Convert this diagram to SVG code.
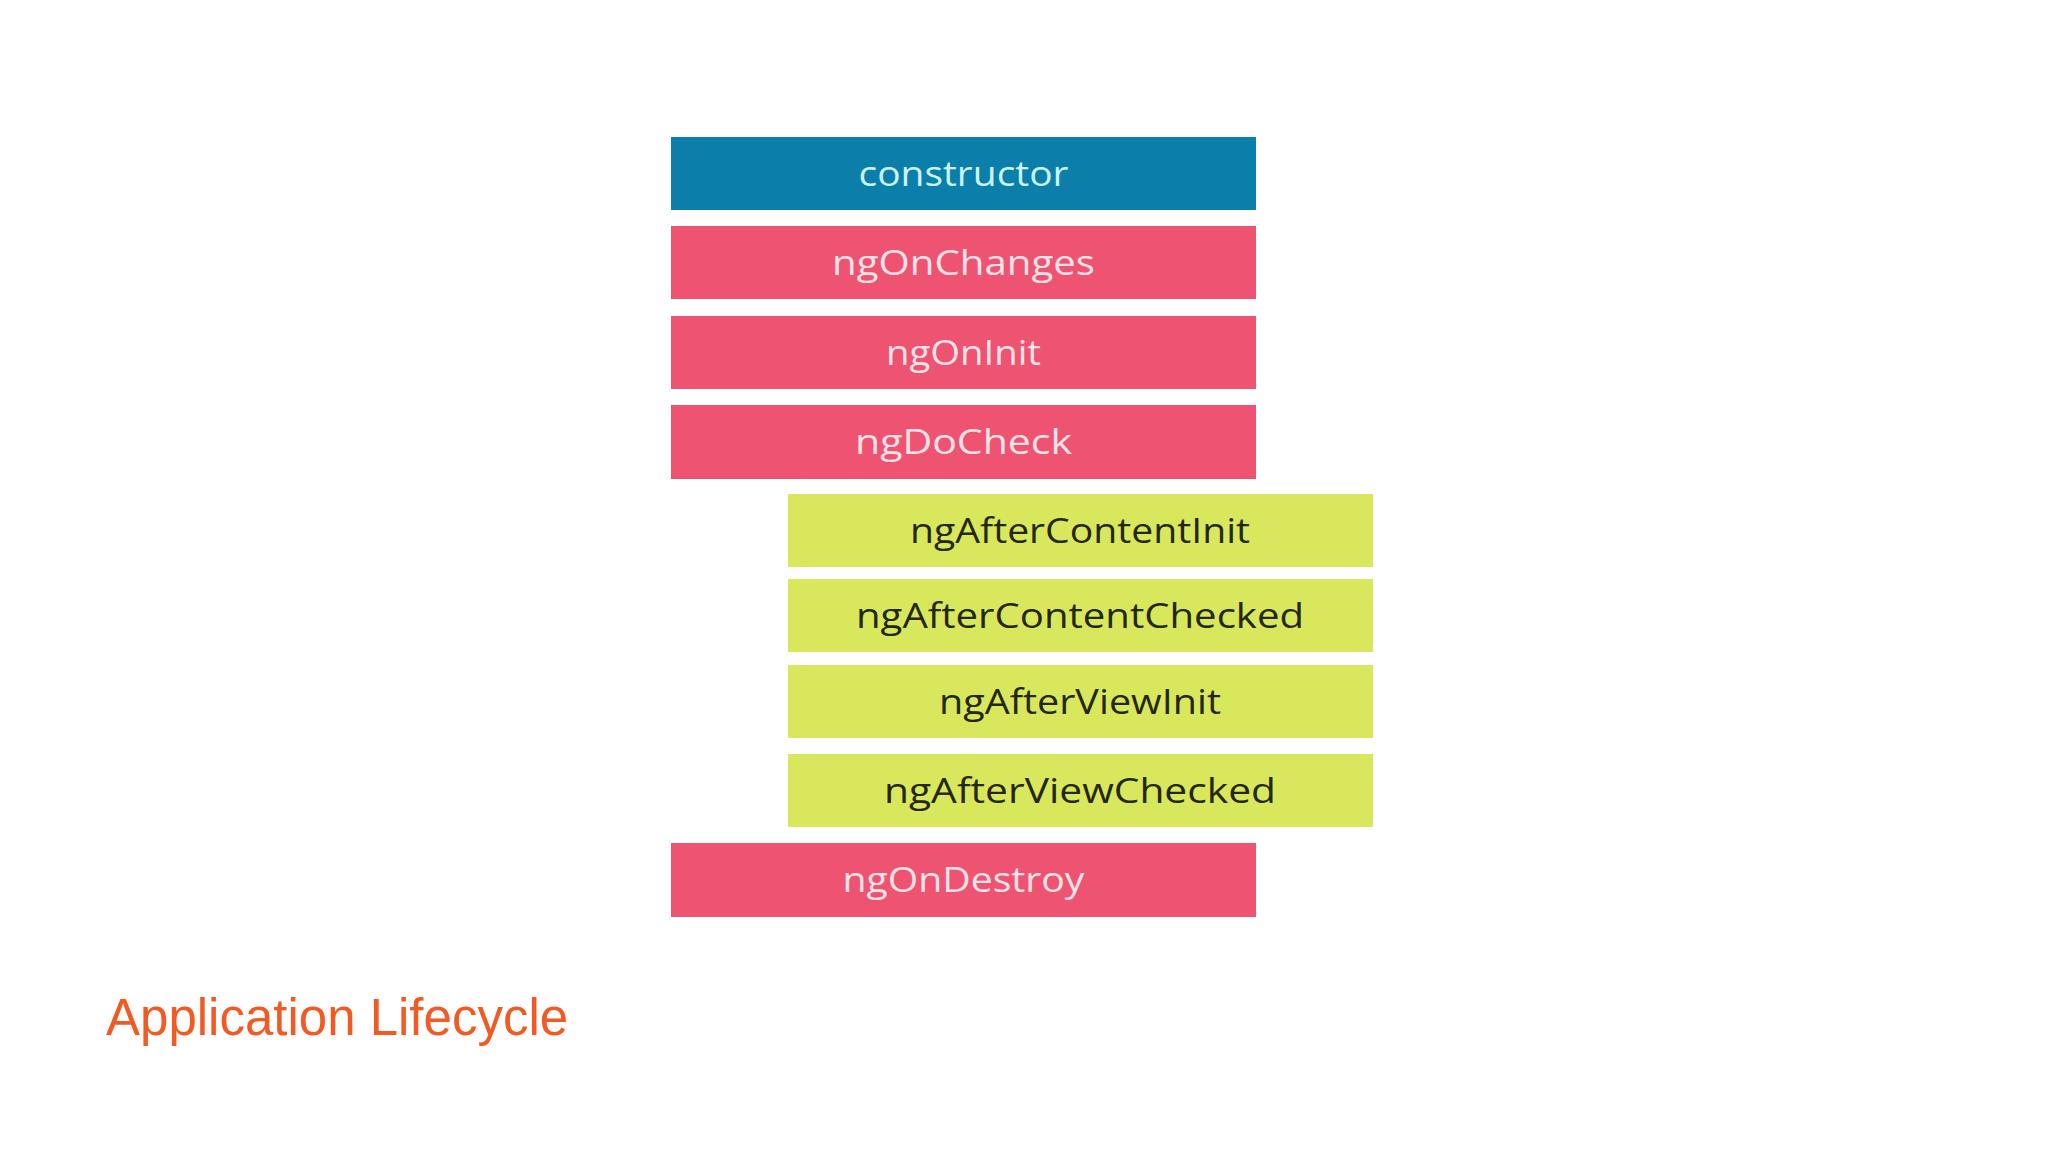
<svg xmlns="http://www.w3.org/2000/svg" width="2048" height="1152" viewBox="0 0 2048 1152">
  <style>
    .box-blue { fill: #0b7fa9; }
    .box-pink { fill: #ee5471; }
    .box-green { fill: #d9e75d; }
    .lbl { font-family: "Open Sans", "Lato", "Liberation Sans", sans-serif; font-size: 35px; text-anchor: middle; }
    .lbl-blue { fill: #c9f3f7; }
    .lbl-pink { fill: #fde3e7; }
    .lbl-green { fill: #24270a; }
    .title { font-family: "Liberation Sans", Arial, sans-serif; font-size: 51px; fill: #f25a23; }
  </style>
  <rect width="2048" height="1152" fill="#ffffff"/>
  <g id="connectors"></g>
  <g id="constructor">
    <rect class="box-blue" x="671" y="137" width="585" height="73"/>
    <text class="lbl lbl-blue" x="963.5" y="186" textLength="210" lengthAdjust="spacingAndGlyphs">constructor</text>
  </g>
  <g id="ngOnChanges">
    <rect class="box-pink" x="671" y="226" width="585" height="73"/>
    <text class="lbl lbl-pink" x="963.5" y="275" textLength="263" lengthAdjust="spacingAndGlyphs">ngOnChanges</text>
  </g>
  <g id="ngOnInit">
    <rect class="box-pink" x="671" y="316" width="585" height="73"/>
    <text class="lbl lbl-pink" x="963.5" y="365" textLength="155" lengthAdjust="spacingAndGlyphs">ngOnInit</text>
  </g>
  <g id="ngDoCheck">
    <rect class="box-pink" x="671" y="405" width="585" height="74"/>
    <text class="lbl lbl-pink" x="963.5" y="454" textLength="217" lengthAdjust="spacingAndGlyphs">ngDoCheck</text>
  </g>
  <g id="ngAfterContentInit">
    <rect class="box-green" x="788" y="494" width="585" height="73"/>
    <text class="lbl lbl-green" x="1080" y="543" textLength="340" lengthAdjust="spacingAndGlyphs">ngAfterContentInit</text>
  </g>
  <g id="ngAfterContentChecked">
    <rect class="box-green" x="788" y="579" width="585" height="73"/>
    <text class="lbl lbl-green" x="1080" y="628" textLength="448" lengthAdjust="spacingAndGlyphs">ngAfterContentChecked</text>
  </g>
  <g id="ngAfterViewInit">
    <rect class="box-green" x="788" y="665" width="585" height="73"/>
    <text class="lbl lbl-green" x="1080" y="714" textLength="282" lengthAdjust="spacingAndGlyphs">ngAfterViewInit</text>
  </g>
  <g id="ngAfterViewChecked">
    <rect class="box-green" x="788" y="754" width="585" height="73"/>
    <text class="lbl lbl-green" x="1080" y="803" textLength="392" lengthAdjust="spacingAndGlyphs">ngAfterViewChecked</text>
  </g>
  <g id="ngOnDestroy">
    <rect class="box-pink" x="671" y="843" width="585" height="74"/>
    <text class="lbl lbl-pink" x="963.5" y="892" textLength="242" lengthAdjust="spacingAndGlyphs">ngOnDestroy</text>
  </g>
  <g id="title">
    <text class="title" x="106" y="1035">Application Lifecycle</text>
  </g>
</svg>
